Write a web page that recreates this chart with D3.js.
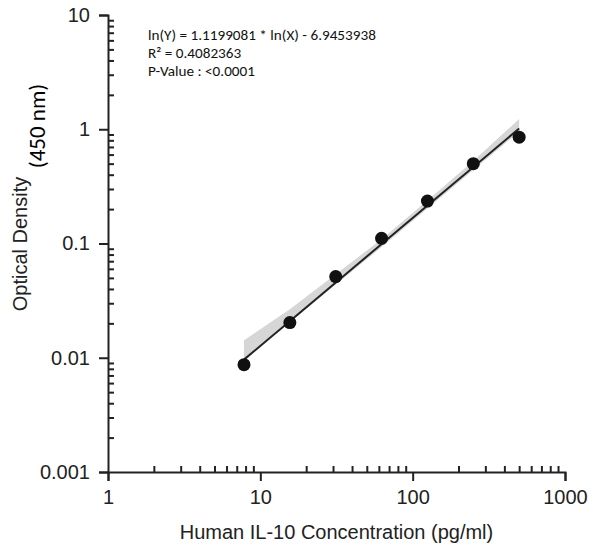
<!DOCTYPE html>
<html>
<head>
<meta charset="utf-8">
<script src="https://cdn.jsdelivr.net/npm/d3@7"></script>
<style>
    body { margin: 0; background: #fff; }
    .tick text { font-family: "Liberation Sans", Arial, sans-serif; font-size: 20px; fill: #222; }
    .axis path, .axis line { stroke: #222; stroke-width: 2; }
</style>
</head>
<body>
<div id="chart"></div>
<script>
// standard concentrations (pg/ml) and measured optical density
const concentrations = [7.8125, 15.625, 31.25, 62.5, 125, 250, 500];
const opticalDensity = [0.0087, 0.0203, 0.0513, 0.111, 0.235, 0.50, 0.853];

// confidence band around the fit, read at each standard
const bandUpper = [0.0142, 0.0266, 0.0537, 0.109, 0.238, 0.527, 1.23];
const bandLower = [0.0096, 0.0205, 0.0437, 0.093, 0.202, 0.439, 0.954];

// fit: ln(Y) = slope * ln(X) + intercept
const fitSlope = 1.1199081;
const fitIntercept = -6.9453938;

const xTicks = [1, 10, 100, 1000];
const yTicks = [0.001, 0.01, 0.1, 1, 10];
const statsLines = ["ln(Y) = 1.1199081 * ln(X) - 6.9453938", "R\u00b2 = 0.4082363", "P-Value : <0.0001"];

const width = 590, height = 548;
const margin = { top: 15, right: 25, bottom: 76, left: 108 };

const svg = d3.select("#chart")
    .append("svg")
    .attr("width", width)
    .attr("height", height);

const x = d3.scaleLog()
    .domain([1, 1000])
    .range([margin.left, width - margin.right]);

const y = d3.scaleLog()
    .domain([0.001, 10])
    .range([height - margin.bottom, margin.top]);

// minor ticks, 2..9 of each decade
const minorX = x.ticks().filter(d => !xTicks.includes(d));
const minorY = y.ticks().filter(d => !yTicks.includes(d));

// band
const bandData = concentrations.map((c, i) => ({ c, lo: bandLower[i], hi: bandUpper[i] }));
svg.append("path")
    .datum(bandData)
    .attr("fill", "#d6d6d6")
    .attr("d", d3.area()
        .x(d => x(d.c))
        .y0(d => y(d.lo))
        .y1(d => y(d.hi)));

// fit line
const fit = c => Math.exp(fitSlope * Math.log(c) + fitIntercept);
const xEnds = d3.extent(concentrations);
svg.append("path")
    .datum(xEnds)
    .attr("fill", "none")
    .attr("stroke", "#222")
    .attr("stroke-width", 2)
    .attr("d", d3.line().x(d => x(d)).y(d => y(fit(d))));

// points
svg.selectAll("circle.pt")
    .data(concentrations)
    .join("circle")
    .attr("class", "pt")
    .attr("cx", d => x(d))
    .attr("cy", (d, i) => y(opticalDensity[i]))
    .attr("r", 6.5)
    .attr("fill", "#111");

// axes
const xAxisG = svg.append("g")
    .attr("class", "axis")
    .attr("transform", `translate(0,${height - margin.bottom})`);
xAxisG.call(d3.axisBottom(x).tickValues(xTicks).tickFormat(d3.format("d")).tickSize(9).tickPadding(9));
xAxisG.append("g")
    .call(d3.axisBottom(x).tickValues(minorX).tickFormat("").tickSize(-6))
    .select(".domain").remove();

const yAxisG = svg.append("g")
    .attr("class", "axis")
    .attr("transform", `translate(${margin.left},0)`);
yAxisG.call(d3.axisLeft(y).tickValues(yTicks).tickFormat(d => String(d)).tickSize(9).tickPadding(9));
yAxisG.append("g")
    .call(d3.axisLeft(y).tickValues(minorY).tickFormat("").tickSize(-6))
    .select(".domain").remove();

// axis titles
svg.append("text")
    .attr("x", (margin.left + width - margin.right) / 2)
    .attr("y", 539)
    .attr("text-anchor", "middle")
    .attr("font-family", "Liberation Sans, Arial, sans-serif")
    .attr("font-size", 20)
    .attr("fill", "#222")
    .text("Human IL-10 Concentration (pg/ml)");

svg.append("text")
    .attr("transform", "translate(27,244) rotate(-90)")
    .attr("text-anchor", "middle")
    .attr("font-family", "Liberation Sans, Arial, sans-serif")
    .attr("font-size", 20)
    .attr("fill", "#222")
    .text("Optical Density");

svg.append("text")
    .attr("transform", "translate(45,126) rotate(-90)")
    .attr("text-anchor", "middle")
    .attr("font-family", "Carlito, Lato, sans-serif")
    .attr("font-size", 23)
    .attr("fill", "#000")
    .text("(450 nm)");

// fit statistics
svg.append("g")
    .selectAll("text")
    .data(statsLines)
    .join("text")
    .attr("x", 148)
    .attr("y", (d, i) => 40 + i * 18)
    .attr("font-family", "Carlito, Lato, sans-serif")
    .attr("font-size", 15.2)
    .attr("fill", "#111")
    .text(d => d);
</script>
</body>
</html>
